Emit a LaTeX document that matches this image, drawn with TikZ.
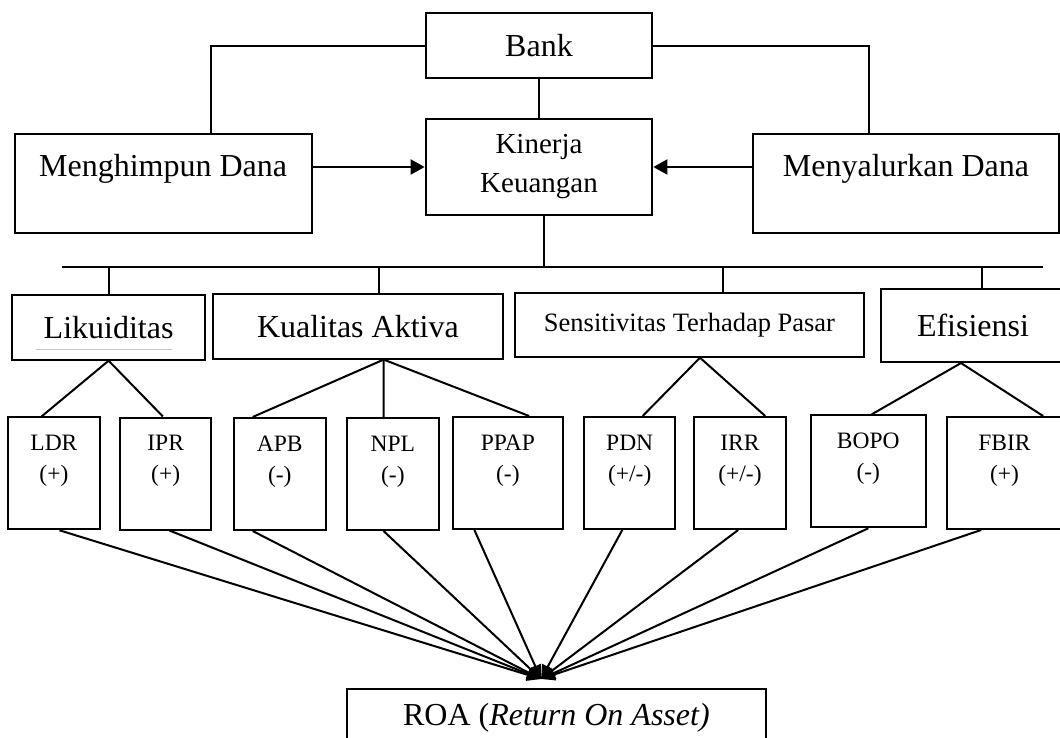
\documentclass[tikz,border=0pt]{standalone}
\usepackage{fontspec}
\setmainfont{Liberation Serif}
\usepackage{tikz}
\usetikzlibrary{arrows.meta,calc,positioning}
\newcommand{\besar}{\fontsize{32}{38}\selectfont}
\newcommand{\sedang}{\fontsize{29}{39}\selectfont}
\newcommand{\pasar}{\fontsize{26.5}{32}\selectfont}
\newcommand{\kecil}{\fontsize{23.5}{31}\selectfont}
\newcommand{\rasio}[2]{\begin{tabular}[t]{@{}c@{}}#1\\#2\end{tabular}}

\begin{document}
\begin{tikzpicture}[
  x=1pt, y=-1pt,
  kotak/.style={rectangle, draw, line width=2pt, inner sep=0pt},
  induk/.style={kotak, font=\besar, minimum height=65},
  rasiobox/.style={kotak, anchor=north, font=\kecil, minimum width=91.5, text height=33pt, text depth=79pt},
  garis/.style={line width=2pt},
  panah/.style={garis, -{Triangle[length=14pt, width=15pt]}},
  panahroa/.style={garis, -{Triangle[length=14pt, width=12pt]}}
]
\useasboundingbox (0,0) rectangle (1060,738);

% Top level
\node[kotak, font=\besar, minimum width=226.7, minimum height=65] (bank) at (539,46) {Bank};
\node[kotak, font=\sedang, align=center, minimum width=226.7, minimum height=96.3] (kinerja) at (539,167) {Kinerja\\Keuangan};
\node[kotak, font=\besar, anchor=north, minimum width=297.2, text height=42.5pt, text depth=56pt] (himpun) at (163.1,133.5) {Menghimpun Dana};
\node[kotak, font=\besar, anchor=north, minimum width=306, text height=42.5pt, text depth=56pt] (salur) at (906,133.5) {Menyalurkan Dana};

% Aspects
\node[induk, minimum width=192.8] (likuid) at (108.6,327.2) {Likuiditas};
\node[induk, minimum width=289.7] (kualitas) at (357.9,326.1) {Kualitas Aktiva};
\node[induk, font=\pasar, minimum width=349, minimum height=64] (sensitif) at (689.5,324.7) {Sensitivitas Terhadap Pasar};
\node[induk, minimum width=184, minimum height=72.7] (efisien) at (973,325.7) {Efisiensi};

% Ratios
\node[rasiobox] (ldr) at (53.9,416.3) {\rasio{LDR}{(+)}};
\node[rasiobox] (ipr) at (165.7,416.5) {\rasio{IPR}{(+)}};
\node[rasiobox] (apb) at (279.8,417) {\rasio{APB}{(-)}};
\node[rasiobox] (npl) at (392.9,417) {\rasio{NPL}{(-)}};
\node[rasiobox, minimum width=109.7] (ppap) at (507.9,416) {\rasio{PPAP}{(-)}};
\node[rasiobox, minimum width=90.7] (pdn) at (629.7,416) {\rasio{PDN}{(+/-)}};
\node[rasiobox] (irr) at (740,416) {\rasio{IRR}{(+/-)}};
\node[rasiobox, minimum width=114.5] (bopo) at (868.3,414.3) {\rasio{BOPO}{(-)}};
\node[rasiobox, minimum width=115] (fbir) at (1004.5,416) {\rasio{FBIR}{(+)}};

% Result
\node[kotak, font=\besar, minimum width=419.3, minimum height=58] (roa) at (556.4,718) {ROA (\textit{Return On Asset)}};
\coordinate (temu) at ([xshift=-15.4pt, yshift=9pt]roa.north);

% Bank lines
\draw[garis] (bank.west) -| ($(himpun.north west)!0.66!(himpun.north east)$);
\draw[garis] (bank.east) -| ($(salur.north west)!0.38!(salur.north east)$);
\draw[garis] (bank) -- (kinerja);
\draw[panah] (himpun.east |- kinerja) -- (kinerja);
\draw[panah] (salur.west |- kinerja) -- (kinerja);

% Bus
\coordinate (busKiri) at (62,267);
\coordinate (busKanan) at (1043,267);
\draw[garis] (busKiri) -- (busKanan);
\draw[garis] ([xshift=4.5pt]kinerja.south) -- ++(0,52);
\draw[garis] (likuid.north) -- ++(0,-27.6);
\draw[garis] ([xshift=20.7pt]kualitas.north) -- ++(0,-26.3);
\draw[garis] ([xshift=33.5pt]sensitif.north) -- ++(0,-25.7);
\draw[garis] ([xshift=8.5pt]efisien.north) -- ++(0,-22.3);

% Likuiditas underline
\draw[gray!45, line width=0.8pt] ($(likuid.south west)+(25,-11)$) -- ($(likuid.south east)+(-34,-11)$);

% Aspect to ratios
\draw[garis] (likuid.south) -- ($(ldr.north west)!0.37!(ldr.north east)$);
\draw[garis] (likuid.south) -- ($(ipr.north west)!0.47!(ipr.north east)$);
\draw[garis] ([xshift=25.8pt]kualitas.south) -- ($(apb.north west)!0.21!(apb.north east)$);
\draw[garis] ([xshift=25.8pt]kualitas.south) -- ($(npl.north west)!0.40!(npl.north east)$);
\draw[garis] ([xshift=25.8pt]kualitas.south) -- ($(ppap.north west)!0.69!(ppap.north east)$);
\draw[garis] ([xshift=10.5pt]sensitif.south) -- ($(pdn.north west)!0.64!(pdn.north east)$);
\draw[garis] ([xshift=10.5pt]sensitif.south) -- ($(irr.north west)!0.77!(irr.north east)$);
\draw[garis] ([xshift=-12pt]efisien.south) -- ($(bopo.north west)!0.53!(bopo.north east)$);
\draw[garis] ([xshift=-12pt]efisien.south) -- ($(fbir.north west)!0.83!(fbir.north east)$);

% Ratios to ROA
\draw[panahroa] ($(ldr.south west)!0.56!(ldr.south east)$) -- (temu);
\draw[panahroa] ($(ipr.south west)!0.54!(ipr.south east)$) -- (temu);
\draw[panahroa] ($(apb.south west)!0.21!(apb.south east)$) -- (temu);
\draw[panahroa] ($(npl.south west)!0.40!(npl.south east)$) -- (temu);
\draw[panahroa] ($(ppap.south west)!0.20!(ppap.south east)$) -- (temu);
\draw[panahroa] ($(pdn.south west)!0.42!(pdn.south east)$) -- (temu);
\draw[panahroa] ($(irr.south west)!0.48!(irr.south east)$) -- (temu);
\draw[panahroa] ($(bopo.south west)!0.50!(bopo.south east)$) -- (temu);
\draw[panahroa] ($(fbir.south west)!0.30!(fbir.south east)$) -- (temu);

\end{tikzpicture}
\end{document}
